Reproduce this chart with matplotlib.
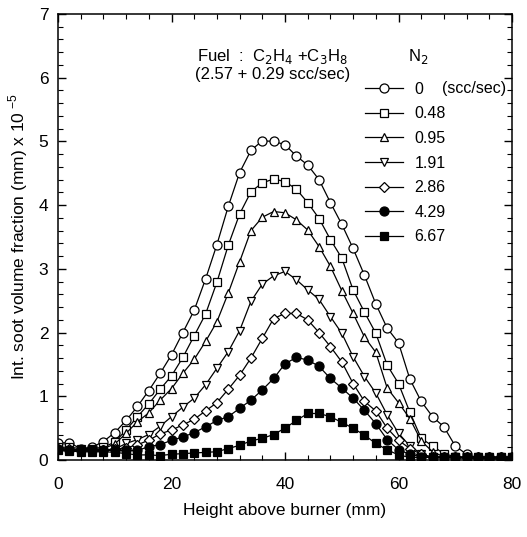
import numpy as np
import matplotlib
matplotlib.use("Agg")
import matplotlib.pyplot as plt
from matplotlib.ticker import MultipleLocator

plt.rcParams['font.family'] = ['Liberation Sans', 'DejaVu Sans']

# height above burner (mm)
height = np.arange(0, 82, 2)

n2_labels = ["0", "0.48", "0.95", "1.91", "2.86", "4.29", "6.67"]

fv_0 = [0.27, 0.27, 0.18, 0.20, 0.29, 0.43, 0.62, 0.84, 1.09, 1.36, 1.65, 2.00, 2.35,
        2.84, 3.38, 3.98, 4.51, 4.86, 5.01, 5.00, 4.95, 4.77, 4.63, 4.40, 4.04, 3.70,
        3.32, 2.90, 2.45, 2.07, 1.84, 1.27, 0.92, 0.68, 0.52, 0.22, 0.09, 0.03, 0.02,
        0.01, 0.01]
fv_048 = [0.20, 0.20, 0.18, 0.18, 0.20, 0.28, 0.47, 0.68, 0.88, 1.11, 1.32, 1.61, 1.95,
          2.29, 2.79, 3.37, 3.86, 4.21, 4.35, 4.41, 4.37, 4.25, 4.04, 3.79, 3.46, 3.17,
          2.67, 2.32, 1.99, 1.49, 1.20, 0.75, 0.34, 0.22, 0.10, 0.05, 0.03, 0.03, 0.03,
          0.03, 0.03]
fv_095 = [0.17, 0.17, 0.16, 0.16, 0.18, 0.25, 0.42, 0.60, 0.74, 0.94, 1.12, 1.36, 1.58,
          1.86, 2.17, 2.62, 3.11, 3.60, 3.81, 3.90, 3.88, 3.77, 3.61, 3.35, 3.04, 2.66,
          2.30, 1.93, 1.69, 1.13, 0.90, 0.65, 0.30, 0.13, 0.05, 0.03, 0.03, 0.03, 0.03,
          0.03, 0.03]
fv_191 = [0.15, 0.15, 0.15, 0.15, 0.15, 0.17, 0.26, 0.32, 0.40, 0.53, 0.68, 0.83, 0.97,
          1.18, 1.44, 1.70, 2.03, 2.49, 2.76, 2.89, 2.96, 2.83, 2.67, 2.52, 2.25, 1.99,
          1.62, 1.31, 1.05, 0.71, 0.42, 0.22, 0.10, 0.04, 0.04, 0.04, 0.04, 0.04, 0.04,
          0.04, 0.04]
fv_286 = [0.18, 0.17, 0.16, 0.16, 0.16, 0.17, 0.19, 0.24, 0.31, 0.41, 0.47, 0.55, 0.64,
          0.77, 0.90, 1.11, 1.33, 1.60, 1.91, 2.22, 2.30, 2.30, 2.20, 2.00, 1.78, 1.54,
          1.20, 0.92, 0.77, 0.50, 0.31, 0.18, 0.09, 0.04, 0.04, 0.04, 0.04, 0.04, 0.04,
          0.04, 0.04]
fv_429 = [0.17, 0.15, 0.15, 0.15, 0.15, 0.15, 0.15, 0.15, 0.21, 0.24, 0.31, 0.36, 0.43,
          0.52, 0.62, 0.68, 0.81, 0.94, 1.10, 1.28, 1.51, 1.61, 1.57, 1.47, 1.28, 1.13,
          0.97, 0.78, 0.57, 0.32, 0.16, 0.09, 0.05, 0.05, 0.05, 0.05, 0.05, 0.05, 0.05,
          0.05, 0.05]
fv_667 = [0.15, 0.14, 0.13, 0.13, 0.13, 0.12, 0.10, 0.08, 0.08, 0.07, 0.09, 0.10, 0.11,
          0.12, 0.13, 0.18, 0.23, 0.30, 0.34, 0.40, 0.50, 0.62, 0.73, 0.73, 0.68, 0.59,
          0.50, 0.39, 0.26, 0.16, 0.08, 0.04, 0.04, 0.04, 0.04, 0.04, 0.04, 0.04, 0.04,
          0.04, 0.04]

series = [fv_0, fv_048, fv_095, fv_191, fv_286, fv_429, fv_667]
markers = ["o", "s", "^", "v", "D", "o", "s"]
faces = ["white"] * 5 + ["black"] * 2
sizes = [6.5, 6, 6, 6, 5.2, 6.5, 6]

fig = plt.figure(figsize=(5.27, 5.37), dpi=100)
ax = fig.add_axes([58 / 527, 1 - 460 / 537, (512 - 58) / 527, (460 - 14) / 537])

for y, m, fc, ms, lab in zip(series, markers, faces, sizes, n2_labels):
    ax.plot(height, y, color="black", lw=0.9, marker=m, ms=ms, mfc=fc, mec="black",
            mew=0.9, label=lab)

ax.set_xlim(0, 80)
ax.set_ylim(0, 7)
ax.xaxis.set_major_locator(MultipleLocator(20))
ax.xaxis.set_minor_locator(MultipleLocator(4))
ax.yaxis.set_major_locator(MultipleLocator(1))
ax.yaxis.set_minor_locator(MultipleLocator(0.2))
ax.tick_params(which="both", direction="in", top=True, right=True, labelsize=12.5)
ax.tick_params(which="major", length=6, width=1)
ax.tick_params(which="minor", length=3.5, width=0.8)
ax.tick_params(axis="x", which="major", pad=12)
ax.tick_params(axis="y", which="major", pad=7)
for s in ax.spines.values():
    s.set_linewidth(1.1)

ax.set_xlabel("Height above burner (mm)", fontsize=12.5, labelpad=8)
ax.set_ylabel(r"Int. soot volume fraction (mm) x 10$^{\ \mathregular{-5}}$", fontsize=12.5,
              labelpad=6)

ax.legend(loc="upper left", bbox_to_anchor=(0.676, 0.848), frameon=False,
          numpoints=1, handlelength=2.4, handletextpad=0.7, labelspacing=0.6,
          fontsize=11.5, borderaxespad=0, borderpad=0)

ax.text(0.845, 0.834, "(scc/sec)", transform=ax.transAxes, ha="left", va="center",
        fontsize=11.5)
ax.text(0.473, 0.905, r"Fuel  :  C$_2$H$_4$ +C$_3$H$_8$", transform=ax.transAxes,
        ha="center", va="center", fontsize=12)
ax.text(0.473, 0.865, "(2.57 + 0.29 scc/sec)", transform=ax.transAxes,
        ha="center", va="center", fontsize=12)
ax.text(0.793, 0.905, r"N$_2$", transform=ax.transAxes, ha="center", va="center",
        fontsize=12)

fig.savefig("out.png", dpi=100)
